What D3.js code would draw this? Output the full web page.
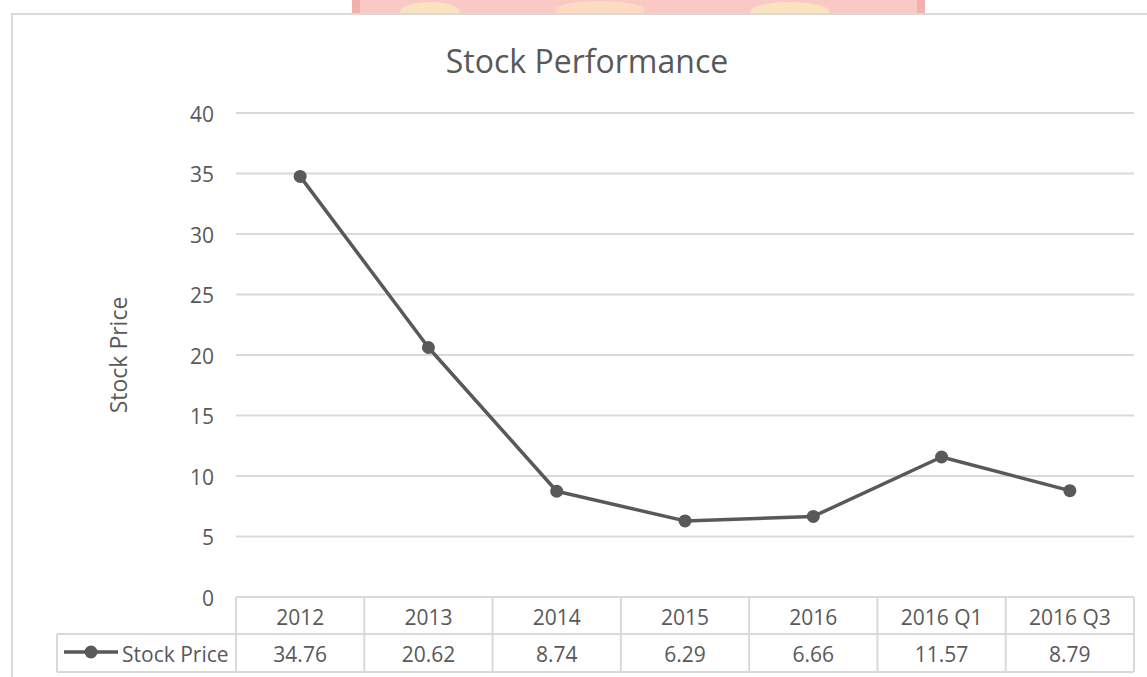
<!DOCTYPE html>
<html>
<head>
<meta charset="utf-8">
<script src="https://cdn.jsdelivr.net/npm/d3@7"></script>
<style>
  html, body { margin: 0; padding: 0; background: #fff; overflow: hidden; }
  text { font-family: "Open Sans", "Liberation Sans", sans-serif; fill: #595959; }
</style>
</head>
<body>
<svg id="chart" width="1147" height="677"></svg>
<script>
const categories = ['2012', '2013', '2014', '2015', '2016', '2016 Q1', '2016 Q3']
const stockPrice = [34.76, 20.62, 8.74, 6.29, 6.66, 11.57, 8.79]
const valueLabels = ['34.76', '20.62', '8.74', '6.29', '6.66', '11.57', '8.79']
const yTicks = [0, 5, 10, 15, 20, 25, 30, 35, 40]
const seriesName = 'Stock Price'
const chartTitle = 'Stock Performance'

const gridColor = '#d9d9d9'
const inkColor = '#595959'

const svg = d3.select('#chart')

// faint bit of a watermark peeking in above the chart frame
const wm = svg.append('g')
wm.append('rect').attr('x', 352).attr('y', -4).attr('width', 573).attr('height', 18).attr('fill', '#f9c9c6')
wm.append('rect').attr('x', 352).attr('y', -4).attr('width', 8).attr('height', 18).attr('fill', '#f3b1ad')
wm.append('rect').attr('x', 917).attr('y', -4).attr('width', 8).attr('height', 18).attr('fill', '#f3b1ad')
wm.append('ellipse').attr('cx', 430).attr('cy', 12).attr('rx', 30).attr('ry', 10).attr('fill', '#fbe3c2')
wm.append('ellipse').attr('cx', 600).attr('cy', 10).attr('rx', 45).attr('ry', 9).attr('fill', '#fbdcc0')
wm.append('ellipse').attr('cx', 790).attr('cy', 12).attr('rx', 40).attr('ry', 10).attr('fill', '#fbe3c2')

// chart area
svg.append('rect')
  .attr('x', 12).attr('y', 14)
  .attr('width', 1160).attr('height', 700)
  .attr('fill', '#fff')
  .attr('stroke', gridColor)
  .attr('stroke-width', 2)

const plot = { left: 236, right: 1134, top: 113, bottom: 597 }

const x = d3.scaleBand()
  .domain(categories)
  .range([plot.left, plot.right])

const y = d3.scaleLinear()
  .domain([0, 40])
  .range([plot.bottom, plot.top])

// title
svg.append('text')
  .attr('x', 587).attr('y', 60)
  .attr('text-anchor', 'middle')
  .attr('dominant-baseline', 'central')
  .style('font-size', '32px')
  .text(chartTitle)

// gridlines
svg.append('g')
  .selectAll('line')
  .data(yTicks.filter(d => d > 0))
  .join('line')
  .attr('x1', plot.left).attr('x2', plot.right)
  .attr('y1', d => y(d)).attr('y2', d => y(d))
  .attr('stroke', gridColor)
  .attr('stroke-width', 2)

// y axis labels
const yAxis = svg.append('g')
  .attr('transform', `translate(${plot.left - 22},0)`)
  .call(d3.axisLeft(y).tickValues(yTicks).tickSize(0).tickPadding(0))
yAxis.select('.domain').remove()
yAxis.selectAll('text')
  .attr('dy', null)
  .attr('dominant-baseline', 'central')
  .style('font-size', '21px')
  .style('fill', inkColor)

svg.append('text')
  .attr('transform', `translate(118,${(plot.top + plot.bottom) / 2}) rotate(-90)`)
  .attr('text-anchor', 'middle')
  .attr('dominant-baseline', 'central')
  .style('font-size', '23px')
  .text(seriesName)

// data table under the plot
const rowTop = plot.bottom
const rowMid = 634
const rowBottom = 672
const legendLeft = 57

const table = svg.append('g')
  .attr('fill', 'none')
  .attr('stroke', gridColor)
  .attr('stroke-width', 2)

table.append('line').attr('x1', plot.left).attr('x2', plot.right).attr('y1', rowTop).attr('y2', rowTop)
table.append('line').attr('x1', legendLeft).attr('x2', plot.right).attr('y1', rowMid).attr('y2', rowMid)
table.append('line').attr('x1', legendLeft).attr('x2', plot.right).attr('y1', rowBottom).attr('y2', rowBottom)
table.append('line').attr('x1', legendLeft).attr('x2', legendLeft).attr('y1', rowMid).attr('y2', rowBottom)
table.selectAll('line.col')
  .data(categories)
  .join('line')
  .attr('class', 'col')
  .attr('x1', d => x(d)).attr('x2', d => x(d))
  .attr('y1', rowTop).attr('y2', rowBottom)
table.append('line').attr('x1', plot.right).attr('x2', plot.right).attr('y1', rowTop).attr('y2', rowBottom)

svg.append('g')
  .selectAll('text')
  .data(categories)
  .join('text')
  .attr('x', d => x(d) + x.bandwidth() / 2)
  .attr('y', (rowTop + rowMid) / 2 + 1)
  .attr('text-anchor', 'middle')
  .attr('dominant-baseline', 'central')
  .style('font-size', '21px')
  .text(d => d)

svg.append('g')
  .selectAll('text')
  .data(valueLabels)
  .join('text')
  .attr('x', (d, i) => x(categories[i]) + x.bandwidth() / 2)
  .attr('y', (rowMid + rowBottom) / 2 + 1)
  .attr('text-anchor', 'middle')
  .attr('dominant-baseline', 'central')
  .style('font-size', '21px')
  .text(d => d)

// legend key inside the table
const key = svg.append('g')
key.append('line')
  .attr('x1', 64).attr('x2', 118)
  .attr('y1', 652).attr('y2', 652)
  .attr('stroke', inkColor).attr('stroke-width', 3.5)
key.append('circle').attr('cx', 91).attr('cy', 652).attr('r', 6.5).attr('fill', inkColor)
key.append('text')
  .attr('x', 122).attr('y', (rowMid + rowBottom) / 2 + 1)
  .attr('dominant-baseline', 'central')
  .style('font-size', '21px')
  .text(seriesName)

// series line + markers
const line = d3.line()
  .x((d, i) => x(categories[i]) + x.bandwidth() / 2)
  .y(d => y(d))

svg.append('path')
  .datum(stockPrice)
  .attr('d', line)
  .attr('fill', 'none')
  .attr('stroke', inkColor)
  .attr('stroke-width', 3.5)
  .attr('stroke-linejoin', 'round')

svg.append('g')
  .selectAll('circle')
  .data(stockPrice)
  .join('circle')
  .attr('cx', (d, i) => x(categories[i]) + x.bandwidth() / 2)
  .attr('cy', d => y(d))
  .attr('r', 6.5)
  .attr('fill', inkColor)
</script>
</body>
</html>
